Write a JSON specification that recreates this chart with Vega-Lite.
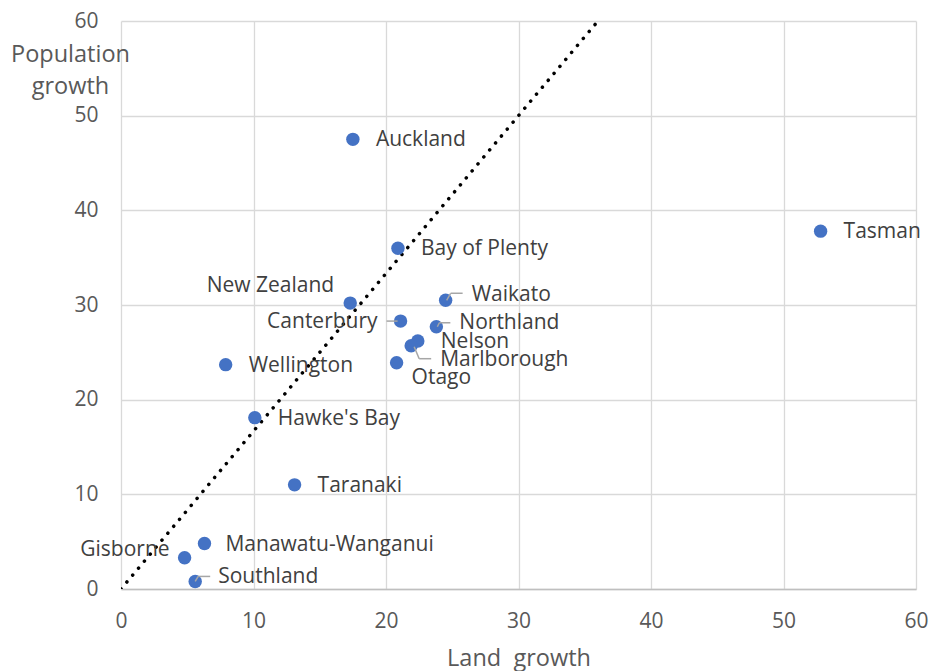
{
  "$schema": "https://vega.github.io/schema/vega-lite/v6.json",
  "width": 795,
  "height": 568,
  "autosize": "none",
  "padding": {"left": 121, "top": 21, "right": 14, "bottom": 82},
  "background": "white",
  "config": {"view": {"stroke": null}, "font": "Open Sans"},
  "datasets": {
    "pts": [
      {"name": "Auckland", "x": 17.5, "y": 47.5},
      {"name": "Tasman", "x": 52.8, "y": 37.8},
      {"name": "Bay of Plenty", "x": 20.9, "y": 36.0},
      {"name": "New Zealand", "x": 17.3, "y": 30.2},
      {"name": "Waikato", "x": 24.5, "y": 30.5},
      {"name": "Canterbury", "x": 21.1, "y": 28.3},
      {"name": "Northland", "x": 23.8, "y": 27.7},
      {"name": "Nelson", "x": 22.4, "y": 26.2},
      {"name": "Marlborough", "x": 21.9, "y": 25.7},
      {"name": "Otago", "x": 20.8, "y": 23.9},
      {"name": "Wellington", "x": 7.9, "y": 23.7},
      {"name": "Hawke's Bay", "x": 10.1, "y": 18.1},
      {"name": "Taranaki", "x": 13.1, "y": 11.0},
      {"name": "Manawatu-Wanganui", "x": 6.3, "y": 4.8},
      {"name": "Gisborne", "x": 4.8, "y": 3.3},
      {"name": "Southland", "x": 5.6, "y": 0.8}
    ],
    "diag": [
      {"x": 0, "y": 0},
      {"x": 36, "y": 60}
    ]
  },
  "encoding": {
    "x": {
      "field": "x", "type": "quantitative",
      "scale": {"domain": [0, 60], "nice": false, "zero": true},
      "axis": {
        "title": "Land\u00a0\u00a0growth",
        "values": [0, 10, 20, 30, 40, 50, 60],
        "grid": true, "gridColor": "#d9d9d9", "gridWidth": 1.3,
        "domainColor": "#bfbfbf", "domainWidth": 1.5,
        "ticks": false, "labelFlush": false,
        "labelFontSize": 21, "labelColor": "#595959", "labelPadding": 21, "labelFont": "Open Sans",
        "titleFont": "Open Sans", "titleFontSize": 23.5, "titleFontWeight": "normal", "titleColor": "#595959",
        "titleY": 76, "titleBaseline": "alphabetic"
      }
    },
    "y": {
      "field": "y", "type": "quantitative",
      "scale": {"domain": [0, 60], "nice": false, "zero": true},
      "axis": {
        "title": ["Population", "growth"],
        "values": [0, 10, 20, 30, 40, 50, 60],
        "grid": true, "gridColor": "#d9d9d9", "gridWidth": 1.3,
        "domain": false,
        "ticks": false, "labelFlush": false,
        "labelFontSize": 21, "labelColor": "#595959", "labelPadding": 23, "labelFont": "Open Sans",
        "titleFont": "Open Sans", "titleFontSize": 23.5, "titleFontWeight": "normal", "titleColor": "#595959",
        "titleAngle": 0, "titleAlign": "center", "titleBaseline": "alphabetic",
        "titleX": -51, "titleY": 40, "titleLineHeight": 32
      }
    }
  },
  "layer": [
    {
      "data": {"name": "diag"},
      "mark": {"type": "line", "color": "black", "strokeWidth": 3.5, "strokeCap": "round", "strokeDash": [0.1, 9], "clip": true}
    },
    {
      "data": {"name": "pts"},
      "mark": {"type": "point", "filled": true, "shape": "circle", "size": 180, "color": "#4472C4", "opacity": 1}
    },
    {
      "data": {"name": "pts"},
      "transform": [{"filter": "datum.name === 'Waikato'"}],
      "layer": [
        {"mark": {"type": "rule", "color": "#a6a6a6", "strokeWidth": 1.5, "xOffset": 1, "yOffset": 0, "x2Offset": 5, "y2Offset": -7}, "encoding": {"x2": {"field": "x"}, "y2": {"field": "y"}}},
        {"mark": {"type": "rule", "color": "#a6a6a6", "strokeWidth": 1.5, "xOffset": 5, "yOffset": -7, "x2Offset": 17, "y2Offset": -7}, "encoding": {"x2": {"field": "x"}, "y2": {"field": "y"}}}
      ]
    },
    {
      "data": {"name": "pts"},
      "transform": [{"filter": "datum.name === 'Canterbury'"}],
      "mark": {"type": "rule", "color": "#a6a6a6", "strokeWidth": 1.5, "xOffset": -14, "yOffset": 0, "x2Offset": -3, "y2Offset": 0},
      "encoding": {"x2": {"field": "x"}, "y2": {"field": "y"}}
    },
    {
      "data": {"name": "pts"},
      "transform": [{"filter": "datum.name === 'Northland'"}],
      "layer": [
        {"mark": {"type": "rule", "color": "#a6a6a6", "strokeWidth": 1.5, "xOffset": 1, "yOffset": 0, "x2Offset": 3, "y2Offset": -4}, "encoding": {"x2": {"field": "x"}, "y2": {"field": "y"}}},
        {"mark": {"type": "rule", "color": "#a6a6a6", "strokeWidth": 1.5, "xOffset": 3, "yOffset": -4, "x2Offset": 14, "y2Offset": -4}, "encoding": {"x2": {"field": "x"}, "y2": {"field": "y"}}}
      ]
    },
    {
      "data": {"name": "pts"},
      "transform": [{"filter": "datum.name === 'Marlborough'"}],
      "layer": [
        {"mark": {"type": "rule", "color": "#a6a6a6", "strokeWidth": 1.5, "xOffset": 3, "yOffset": 1, "x2Offset": 8, "y2Offset": 13}, "encoding": {"x2": {"field": "x"}, "y2": {"field": "y"}}},
        {"mark": {"type": "rule", "color": "#a6a6a6", "strokeWidth": 1.5, "xOffset": 8, "yOffset": 13, "x2Offset": 20, "y2Offset": 13}, "encoding": {"x2": {"field": "x"}, "y2": {"field": "y"}}}
      ]
    },
    {
      "data": {"name": "pts"},
      "transform": [{"filter": "datum.name === 'Southland'"}],
      "layer": [
        {"mark": {"type": "rule", "color": "#a6a6a6", "strokeWidth": 1.5, "xOffset": 0, "yOffset": 0, "x2Offset": 3, "y2Offset": -5}, "encoding": {"x2": {"field": "x"}, "y2": {"field": "y"}}},
        {"mark": {"type": "rule", "color": "#a6a6a6", "strokeWidth": 1.5, "xOffset": 3, "yOffset": -5, "x2Offset": 15, "y2Offset": -5}, "encoding": {"x2": {"field": "x"}, "y2": {"field": "y"}}}
      ]
    },
    {
      "data": {"name": "pts"},
      "transform": [{"filter": {"field": "name", "oneOf": ["Auckland", "Tasman", "Bay of Plenty", "Wellington", "Hawke's Bay", "Taranaki", "Nelson"]}}],
      "mark": {"type": "text", "align": "left", "baseline": "middle", "dx": 23, "dy": 1, "fontSize": 21, "color": "#404040", "font": "Open Sans"},
      "encoding": {"text": {"field": "name"}}
    },
    {
      "data": {"name": "pts"},
      "transform": [{"filter": "datum.name === 'Manawatu-Wanganui'"}],
      "mark": {"type": "text", "align": "left", "baseline": "middle", "dx": 21, "dy": 1, "fontSize": 21, "color": "#404040", "font": "Open Sans"},
      "encoding": {"text": {"field": "name"}}
    },
    {
      "data": {"name": "pts"},
      "transform": [{"filter": {"field": "name", "oneOf": ["Northland", "Southland"]}}],
      "mark": {"type": "text", "align": "left", "baseline": "middle", "dx": 23, "dy": -4, "fontSize": 21, "color": "#404040", "font": "Open Sans"},
      "encoding": {"text": {"field": "name"}}
    },
    {
      "data": {"name": "pts"},
      "transform": [{"filter": "datum.name === 'Waikato'"}],
      "mark": {"type": "text", "align": "left", "baseline": "middle", "dx": 26, "dy": -5, "fontSize": 21, "color": "#404040", "font": "Open Sans"},
      "encoding": {"text": {"field": "name"}}
    },
    {
      "data": {"name": "pts"},
      "transform": [{"filter": "datum.name === 'Marlborough'"}],
      "mark": {"type": "text", "align": "left", "baseline": "middle", "dx": 29, "dy": 14, "fontSize": 21, "color": "#404040", "font": "Open Sans"},
      "encoding": {"text": {"field": "name"}}
    },
    {
      "data": {"name": "pts"},
      "transform": [{"filter": "datum.name === 'Otago'"}],
      "mark": {"type": "text", "align": "left", "baseline": "middle", "dx": 15, "dy": 15, "fontSize": 21, "color": "#404040", "font": "Open Sans"},
      "encoding": {"text": {"field": "name"}}
    },
    {
      "data": {"name": "pts"},
      "transform": [{"filter": "datum.name === 'New Zealand'"}],
      "mark": {"type": "text", "align": "right", "baseline": "middle", "dx": -16, "dy": -17, "fontSize": 21, "color": "#404040", "font": "Open Sans"},
      "encoding": {"text": {"field": "name"}}
    },
    {
      "data": {"name": "pts"},
      "transform": [{"filter": "datum.name === 'Canterbury'"}],
      "mark": {"type": "text", "align": "right", "baseline": "middle", "dx": -23, "dy": 1, "fontSize": 21, "color": "#404040", "font": "Open Sans"},
      "encoding": {"text": {"field": "name"}}
    },
    {
      "data": {"name": "pts"},
      "transform": [{"filter": "datum.name === 'Gisborne'"}],
      "mark": {"type": "text", "align": "right", "baseline": "middle", "dx": -15, "dy": -8, "fontSize": 21, "color": "#404040", "font": "Open Sans"},
      "encoding": {"text": {"field": "name"}}
    }
  ]
}
